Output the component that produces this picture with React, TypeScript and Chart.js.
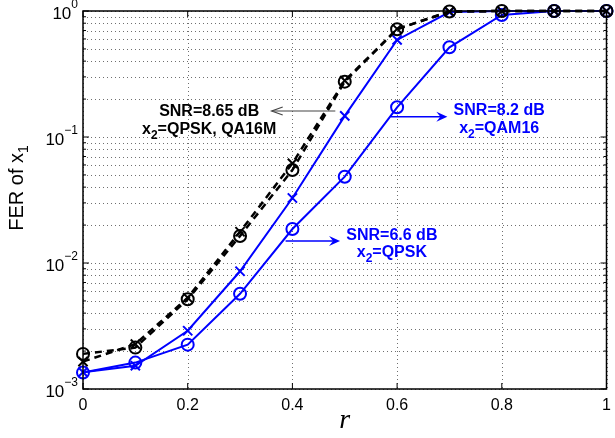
import React, { useEffect, useRef } from "react";
import { Chart, registerables } from "chart.js";

Chart.register(...registerables);

// ---- data ----
const rValues = [0, 0.1, 0.2, 0.3, 0.4, 0.5, 0.6, 0.7, 0.8, 0.9, 1.0];
const fer865QPSK = [1.9e-3, 2.13e-3, 5.15e-3, 0.0164, 0.0547, 0.275, 0.716, 0.99, 1, 1, 1];
const fer865QAM16 = [1.65e-3, 2.27e-3, 5.3e-3, 0.0177, 0.0618, 0.28, 0.72, 0.99, 1, 1, 1];
const fer82QAM16 = [1.36e-3, 1.53e-3, 2.9e-3, 8.6e-3, 0.0328, 0.147, 0.589, 0.98, 1, 1, 1];
const fer66QPSK = [1.35e-3, 1.62e-3, 2.25e-3, 5.7e-3, 0.0186, 0.0484, 0.172, 0.515, 0.93, 1, 1];

const xTickValues = [0, 0.2, 0.4, 0.6, 0.8, 1];
const xTickLabels = ["0", "0.2", "0.4", "0.6", "0.8", "1"];
const yDecadeExponents = [-3, -2, -1, 0];
const yTickMantissa = [1, 2, 3, 4, 5, 6, 7, 8, 9];

const xAxisTitle = "r";
const yAxisTitleMain = "FER of x";
const yAxisTitleSub = "1";

type Seg = { t: string; sub?: boolean };
type Ann = {
  color: string;
  arrowColor: string;
  lines: Seg[][];
  textAt: [number, number];
  arrowFrom: [number, number];
  arrowTo: [number, number];
  filledHead: boolean;
};

const annotations: Ann[] = [
  {
    color: "#000000",
    arrowColor: "#444444",
    lines: [[{ t: "SNR=8.65 dB" }], [{ t: "x" }, { t: "2", sub: true }, { t: "=QPSK, QA16M" }]],
    textAt: [0.241, 0.1637],
    arrowFrom: [0.482, 0.1608],
    arrowTo: [0.3605, 0.1608],
    filledHead: false,
  },
  {
    color: "#0000ff",
    arrowColor: "#0000ff",
    lines: [[{ t: "SNR=8.2 dB" }], [{ t: "x" }, { t: "2", sub: true }, { t: "=QAM16" }]],
    textAt: [0.795, 0.1667],
    arrowFrom: [0.588, 0.145],
    arrowTo: [0.696, 0.145],
    filledHead: true,
  },
  {
    color: "#0000ff",
    arrowColor: "#0000ff",
    lines: [[{ t: "SNR=6.6 dB" }], [{ t: "x" }, { t: "2", sub: true }, { t: "=QPSK" }]],
    textAt: [0.59, 0.017],
    arrowFrom: [0.387, 0.01496],
    arrowTo: [0.491, 0.01496],
    filledHead: true,
  },
];

const SANS = "'Liberation Sans', Arial, Helvetica, sans-serif";

function allYTickValues(): number[] {
  const out: number[] = [];
  yDecadeExponents.forEach((e) => {
    yTickMantissa.forEach((m) => {
      const v = m * Math.pow(10, e);
      if (v <= 1.0000001) out.push(v);
    });
  });
  return out;
}

const gridPlugin = {
  id: "dottedGrid",
  beforeDatasetsDraw(chart: any) {
    const { ctx, chartArea, scales } = chart;
    ctx.save();
    ctx.strokeStyle = "#6f6f6f";
    ctx.lineWidth = 1;
    ctx.setLineDash([1, 3]);
    ctx.beginPath();
    xTickValues.forEach((v) => {
      const px = Math.round(scales.x.getPixelForValue(v)) + 0.5;
      ctx.moveTo(px, chartArea.top);
      ctx.lineTo(px, chartArea.bottom);
    });
    allYTickValues().forEach((v) => {
      const py = Math.round(scales.y.getPixelForValue(v)) + 0.5;
      ctx.moveTo(chartArea.left, py);
      ctx.lineTo(chartArea.right, py);
    });
    ctx.stroke();
    ctx.restore();
  },
};

const overlayPlugin = {
  id: "overlay",
  afterDraw(chart: any) {
    const { ctx, chartArea, scales } = chart;
    const xs = scales.x;
    const ys = scales.y;
    ctx.save();
    // box
    ctx.strokeStyle = "#000";
    ctx.lineWidth = 1.5;
    ctx.strokeRect(chartArea.left, chartArea.top, chartArea.right - chartArea.left, chartArea.bottom - chartArea.top);
    // inward ticks
    ctx.lineWidth = 1;
    ctx.beginPath();
    xTickValues.forEach((v) => {
      const px = xs.getPixelForValue(v);
      ctx.moveTo(px, chartArea.bottom);
      ctx.lineTo(px, chartArea.bottom - 6);
      ctx.moveTo(px, chartArea.top);
      ctx.lineTo(px, chartArea.top + 6);
    });
    allYTickValues().forEach((v) => {
      const py = ys.getPixelForValue(v);
      const m = Math.round(v / Math.pow(10, Math.floor(Math.log10(v) + 1e-9)));
      const len = m === 1 ? 6 : 3;
      ctx.moveTo(chartArea.left, py);
      ctx.lineTo(chartArea.left + len, py);
      ctx.moveTo(chartArea.right, py);
      ctx.lineTo(chartArea.right - len, py);
    });
    ctx.stroke();

    // y tick labels (10 with superscript)
    ctx.fillStyle = "#000";
    ctx.textBaseline = "alphabetic";
    yDecadeExponents.forEach((e) => {
      const py = ys.getPixelForValue(Math.pow(10, e));
      const expStr = String(e).replace("-", "\u2212");
      ctx.font = `12px ${SANS}`;
      const expW = ctx.measureText(expStr).width;
      ctx.font = `17px ${SANS}`;
      const baseW = ctx.measureText("10").width;
      const right = chartArea.left - 5;
      ctx.textAlign = "left";
      ctx.fillText("10", right - expW - baseW, py + 8);
      ctx.font = `12px ${SANS}`;
      ctx.fillText(expStr, right - expW, py - 3);
    });

    // y axis title
    ctx.save();
    ctx.translate(23, 188);
    ctx.rotate(-Math.PI / 2);
    ctx.font = `20px ${SANS}`;
    const mw = ctx.measureText(yAxisTitleMain).width;
    ctx.font = `14px ${SANS}`;
    const sw = ctx.measureText(yAxisTitleSub).width;
    const total = mw + sw;
    ctx.textAlign = "left";
    ctx.font = `20px ${SANS}`;
    ctx.fillText(yAxisTitleMain, -total / 2, 0);
    ctx.font = `14px ${SANS}`;
    ctx.fillText(yAxisTitleSub, -total / 2 + mw, 5);
    ctx.restore();

    // x axis title
    ctx.font = `italic 28px 'Liberation Serif', 'DejaVu Serif', serif`;
    ctx.textAlign = "center";
    ctx.fillText(xAxisTitle, (chartArea.left + chartArea.right) / 2, 428);

    // annotations
    annotations.forEach((a) => {
      const x1 = xs.getPixelForValue(a.arrowFrom[0]);
      const y1 = ys.getPixelForValue(a.arrowFrom[1]);
      const x2 = xs.getPixelForValue(a.arrowTo[0]);
      const y2 = ys.getPixelForValue(a.arrowTo[1]);
      const dir = Math.sign(x2 - x1);
      ctx.strokeStyle = a.arrowColor;
      ctx.fillStyle = a.arrowColor;
      ctx.lineWidth = a.filledHead ? 1.5 : 1.2;
      ctx.beginPath();
      ctx.moveTo(x1, y1);
      ctx.lineTo(a.filledHead ? x2 - dir * 6 : x2, y2);
      ctx.stroke();
      if (a.filledHead) {
        ctx.beginPath();
        ctx.moveTo(x2, y2);
        ctx.lineTo(x2 - dir * 11, y2 - 5);
        ctx.lineTo(x2 - dir * 7, y2);
        ctx.lineTo(x2 - dir * 11, y2 + 5);
        ctx.closePath();
        ctx.fill();
      } else {
        ctx.beginPath();
        ctx.moveTo(x2 - dir * 11, y2 - 4);
        ctx.lineTo(x2, y2);
        ctx.lineTo(x2 - dir * 11, y2 + 4);
        ctx.stroke();
      }
      const cx = xs.getPixelForValue(a.textAt[0]);
      const cy = ys.getPixelForValue(a.textAt[1]);
      ctx.fillStyle = a.color;
      ctx.textAlign = "left";
      a.lines.forEach((line, i) => {
        const widths = line.map((s) => {
          ctx.font = s.sub ? `bold 12px ${SANS}` : `bold 16px ${SANS}`;
          return ctx.measureText(s.t).width;
        });
        const tw = widths.reduce((p, c) => p + c, 0);
        let x = cx - tw / 2;
        const base = cy + 6 + i * 17.5;
        line.forEach((s, j) => {
          ctx.font = s.sub ? `bold 12px ${SANS}` : `bold 16px ${SANS}`;
          ctx.fillText(s.t, x, s.sub ? base + 5 : base);
          x += widths[j];
        });
      });
    });
    ctx.restore();
  },
};

export default function App() {
  const canvasRef = useRef<HTMLCanvasElement | null>(null);

  useEffect(() => {
    if (!canvasRef.current) return;
    const mk = (vals: number[]) => rValues.map((x, i) => ({ x, y: vals[i] }));

    const chart = new Chart(canvasRef.current, {
      type: "line",
      data: {
        datasets: [
          {
            label: "SNR=8.65 dB, QPSK",
            data: mk(fer865QPSK),
            borderColor: "#000000",
            backgroundColor: "rgba(0,0,0,0)",
            borderWidth: 2.5,
            borderDash: [7, 5],
            pointStyle: "circle",
            pointRadius: 6,
            pointBorderWidth: 2,
            pointBorderColor: "#000000",
            pointBackgroundColor: "rgba(0,0,0,0)",
            clip: false,
          },
          {
            label: "SNR=8.65 dB, QAM16",
            data: mk(fer865QAM16),
            borderColor: "#000000",
            backgroundColor: "rgba(0,0,0,0)",
            borderWidth: 2.5,
            borderDash: [7, 5],
            pointStyle: "crossRot",
            pointRadius: 6.5,
            pointBorderWidth: 2,
            pointBorderColor: "#000000",
            clip: false,
          },
          {
            label: "SNR=8.2 dB, QAM16",
            data: mk(fer82QAM16),
            borderColor: "#0000ff",
            backgroundColor: "rgba(0,0,0,0)",
            borderWidth: 2,
            pointStyle: "crossRot",
            pointRadius: 6.5,
            pointBorderWidth: 2,
            pointBorderColor: "#0000ff",
            clip: false,
          },
          {
            label: "SNR=6.6 dB, QPSK",
            data: mk(fer66QPSK),
            borderColor: "#0000ff",
            backgroundColor: "rgba(0,0,0,0)",
            borderWidth: 2,
            pointStyle: "circle",
            pointRadius: 6,
            pointBorderWidth: 2,
            pointBorderColor: "#0000ff",
            pointBackgroundColor: "rgba(0,0,0,0)",
            clip: false,
          },
        ],
      },
      options: {
        animation: false,
        responsive: true,
        maintainAspectRatio: false,
        layout: { padding: { top: 11, right: 4.5, left: 0, bottom: 0 } },
        plugins: { legend: { display: false }, tooltip: { enabled: false } },
        scales: {
          x: {
            type: "linear",
            min: 0,
            max: 1,
            afterBuildTicks: (s: any) => {
              s.ticks = xTickValues.map((v) => ({ value: v }));
            },
            afterFit: (s: any) => {
              s.height = 49;
              s.paddingLeft = 0;
              s.paddingRight = 0;
            },
            ticks: {
              autoSkip: false,
              maxRotation: 0,
              padding: 7,
              color: "#000",
              font: { family: SANS, size: 16 },
              callback: (v: any) => {
                const i = xTickValues.findIndex((t) => Math.abs(t - Number(v)) < 1e-9);
                return i >= 0 ? xTickLabels[i] : "";
              },
            },
            grid: { display: false, drawTicks: false },
            border: { display: false },
          },
          y: {
            type: "logarithmic",
            min: 1e-3,
            max: 1,
            afterBuildTicks: (s: any) => {
              s.ticks = allYTickValues().map((v) => ({ value: v }));
            },
            afterFit: (s: any) => {
              s.width = 83;
              s.paddingTop = 0;
              s.paddingBottom = 0;
            },
            ticks: { autoSkip: false, display: false },
            grid: { display: false, drawTicks: false },
            border: { display: false },
          },
        },
      } as any,
      plugins: [gridPlugin, overlayPlugin],
    });
    return () => chart.destroy();
  }, []);

  return (
    <div style={{ position: "fixed", left: 0, top: 0, width: 615, height: 438, background: "#fff" }}>
      <canvas ref={canvasRef} />
    </div>
  );
}
